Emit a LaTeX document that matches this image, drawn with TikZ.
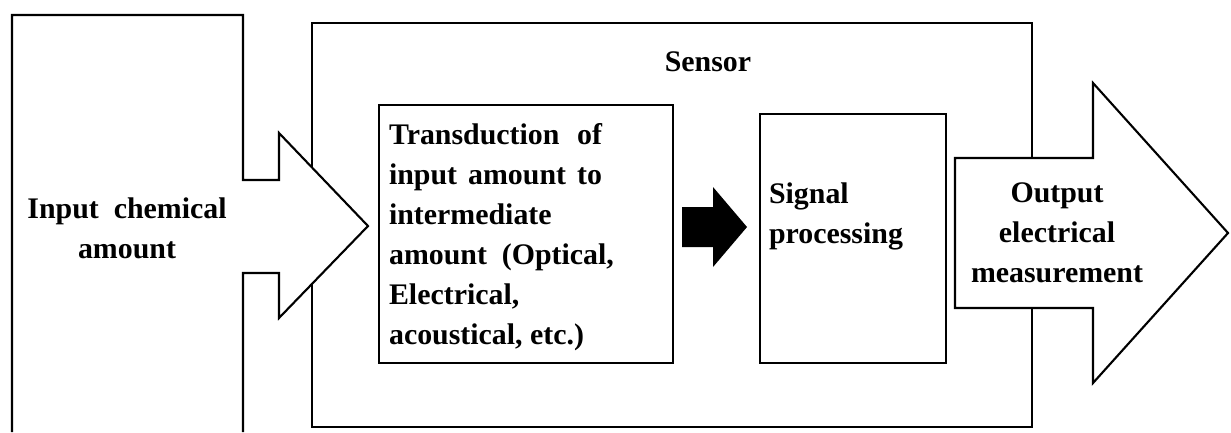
\documentclass[tikz,border=0pt]{standalone}
\usepackage{fontspec}
\setmainfont{Liberation Serif}
\usetikzlibrary{positioning}

\begin{document}
\begin{tikzpicture}[line width=0.6pt,
	box/.style={draw, rectangle, inner sep=0pt},
	txt/.style={inner sep=0pt, font=\fontsize{8.5}{11.4}\selectfont\bfseries}]
	\useasboundingbox (0,0) rectangle (12.31,4.32);
	\node [box, minimum width=7.2cm, minimum height=4.04cm] (sensor) at (6.72,2.07) {};
	\node [txt] (sensorlabel) at (7.08,3.70) {Sensor};
	\filldraw [fill=white] (0.12,0) -- (0.12,4.17) -- (2.43,4.17) -- (2.43,2.52) -- (2.79,2.52) -- (2.79,2.99) -- (3.68,2.06) -- (2.79,1.14) -- (2.79,1.59) -- (2.43,1.59) -- (2.43,0);
	\node [txt, align=center] (input) at (1.27,2.04) {Input \ chemical\\amount};
	\node [box, minimum width=2.94cm, minimum height=2.58cm, anchor=north west] (trans) at (3.78,3.28) {};
	\node [txt, anchor=north west, text width=2.13cm, align=justify] (translabel) at (3.88,3.10) {Transduction of\linebreak input amount to\linebreak intermediate\\\mbox{amount \ (Optical,}\\Electrical,\\acoustical, etc.)};
	\node [box, minimum width=1.86cm, minimum height=2.49cm, anchor=north west] (sig) at (7.59,3.19) {};
	\node [txt, anchor=north west, align=left] (siglabel) at (7.68,2.50) {Signal\\processing};
	\fill (6.82,2.25) -- (7.13,2.25) -- (7.13,2.45) -- (7.47,2.05) -- (7.13,1.65) -- (7.13,1.85) -- (6.82,1.85) -- cycle;
	\filldraw [fill=white] (9.55,2.74) -- (10.93,2.74) -- (10.93,3.49) -- (12.28,1.99) -- (10.93,0.49) -- (10.93,1.24) -- (9.55,1.24) -- cycle;
	\node [txt, align=center] (output) at (10.57,1.99) {Output\\electrical\\measurement};
\end{tikzpicture}
\end{document}
